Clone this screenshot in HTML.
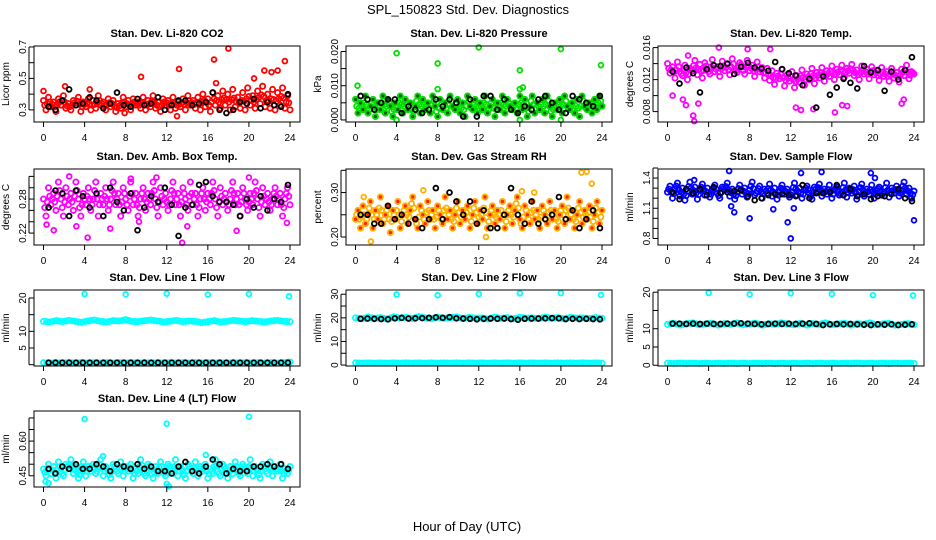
<!DOCTYPE html>
<html><head><meta charset="utf-8"><title>SPL_150823 Std. Dev. Diagnostics</title>
<style>
html,body{margin:0;padding:0;background:#fff;}
svg{display:block;font-family:"Liberation Sans",Arial,sans-serif;}
</style></head>
<body>
<svg id="chart" width="936" height="540" viewBox="0 0 936 540">
<text x="468" y="14" text-anchor="middle" font-size="13">SPL_150823  Std. Dev. Diagnostics</text>
<text x="467" y="531" text-anchor="middle" font-size="13">Hour of Day (UTC)</text>
</svg>
<script>
// ---------- shared axis data ----------
const xTicks = [0,4,8,12,16,20,24];

// ---------- Panel 1: CO2 ----------
const co2Vals = [.36,.30,.38,.32,.35,.29,.37,.33,.39,.31,.34,.30,.36,.33,.38,.29,.35,.32,.37,.30,.36,.31,.39,.33,.35,.30,.37,.32,.36,.29,.34,.31,.38,.32,.36,.30,.37,.33,.35,.31,.38,.30,.36,.32,.39,.31,.35,.29,.37,.33,.36,.30,.38,.31,.35,.32,.37,.30,.39,.33,.36,.31,.38,.30,.40,.32,.37,.29,.41,.33,.39,.31,.42,.33,.40,.30,.43,.32,.38,.31,.41,.30,.44,.33,.39,.31,.42,.34,.45,.32,.40,.31,.43,.30,.41,.33,.44,.31,.39,.30];
const co2OutH = [0,2.1,4.5,9.5,13.2,16.6,18,23.5,21.5,22.2,22.8,20.5,13,7.9,16.8];
const co2OutV = [.42,.45,.43,.51,.56,.62,.69,.61,.55,.54,.55,.50,.26,.28,.47];
const co2Black = [.32,.30,.36,.43,.33,.34,.38,.36,.31,.34,.41,.33,.32,.37,.33,.34,.38,.30,.33,.36,.36,.33,.34,.35,.41,.30,.28,.30,.35,.34,.37,.31,.35,.33,.32,.40];
const co2Ticks = [.3,.4,.5,.6,.7];
const co2Labels = ['0.3','','0.5','','0.7'];

// ---------- Panel 2: Pressure ----------
const presVals = [.006,.002,.005,.003,.007,.002,.004,.006,.001,.005,.003,.007,.002,.006,.004,.001,.005,.003,.007,.002,.006,.003,.005,.001,.004,.007,.002,.006,.003,.005,.002,.007,.004,.001,.006,.003,.005,.002,.007,.004,.003,.006,.002,.005,.001,.007,.004,.003,.006,.002,.005,.003,.007,.002,.004,.006,.001,.005,.003,.007,.002,.006,.004,.003,.005,.002,.007,.003,.006,.001,.004,.007,.002,.005,.003,.006,.002,.007,.004,.001,.005,.003,.006,.002,.007,.004,.003,.005,.002,.006,.001,.007,.004,.003,.005,.002,.006,.003,.007,.004];
const presOutH = [0.2,4,8,12,16,20,23.9,8,16,16,4,20,16.3];
const presOutV = [.010,.0195,.0165,.0212,.0145,.0207,.016,.009,.009,.0,.0,.0,.0095];
const presBlack = [.007,.006,.003,.005,.006,.006,.002,.004,.003,.002,.003,.006,.004,.006,.005,.001,.006,.001,.007,.007,.003,.006,.003,.002,.004,.003,.006,.007,.005,.003,.002,.007,.006,.005,.004,.007];
const presTicks = [0,.005,.01,.015,.02];
const presLabels = ['0.000','','0.010','','0.020'];

// ---------- Panel 3: Li-820 Temp ----------
const tempVals = [.0140,.0128,.0136,.0122,.0142,.0130,.0125,.0138,.0120,.0134,.0131,.0144,.0126,.0139,.0122,.0141,.0133,.0127,.0145,.0130,.0136,.0124,.0143,.0131,.0139,.0126,.0146,.0133,.0129,.0141,.0136,.0127,.0144,.0131,.0138,.0124,.0142,.0130,.0135,.0122,.0134,.0119,.0131,.0114,.0128,.0121,.0133,.0112,.0126,.0118,.0130,.0110,.0125,.0117,.0132,.0113,.0127,.0120,.0134,.0115,.0129,.0122,.0135,.0118,.0131,.0124,.0137,.0120,.0133,.0126,.0138,.0123,.0134,.0128,.0139,.0125,.0132,.0120,.0137,.0127,.0133,.0121,.0136,.0126,.0131,.0119,.0135,.0124,.0130,.0118,.0134,.0122,.0129,.0117,.0133,.0125,.0138,.0121,.0130,.0127];
const tempOutH = [1.5,1.8,2.5,3,2.6,12.5,13,16.3,17,23,22.8,5,7.8,10,2,0.5,14.2,17.5];
const tempOutV = [.0095,.0088,.0075,.0090,.0068,.0085,.0082,.0079,.0088,.0095,.0090,.0160,.0158,.0158,.0150,.0100,.0083,.0087];
const tempBlack = [.0130,.0115,.0135,.0128,.0104,.0133,.0138,.0137,.0140,.0127,.0136,.0141,.0135,.0134,.0131,.0142,.0133,.0128,.0125,.0113,.0121,.0085,.0124,.0101,.0110,.0121,.0116,.0109,.0137,.0129,.0132,.0106,.0130,.0120,.0132,.0148];
const tempTicks = [.008,.010,.012,.014,.016];
const tempLabels = ['0.008','','0.012','','0.016'];

// ---------- Panel 4: Amb. Box Temp ----------
const ambVals = [.28,.25,.30,.27,.29,.26,.31,.28,.25,.30,.27,.29,.26,.31,.28,.25,.29,.27,.30,.26,.28,.31,.25,.29,.27,.30,.26,.28,.31,.27,.29,.25,.30,.28,.26,.31,.27,.29,.25,.28,.30,.26,.29,.27,.31,.28,.25,.30,.27,.29,.26,.28,.31,.27,.29,.25,.30,.28,.26,.31,.27,.29,.25,.28,.30,.26,.29,.27,.31,.28,.25,.30,.27,.29,.26,.28,.31,.27,.29,.25,.30,.28,.26,.29,.27,.31,.28,.25,.30,.27,.29,.26,.28,.30,.27,.29,.25,.28,.30,.27];
const ambOutH = [0.3,1,4.3,9.3,13.5,14,8.5,11,18.8,23.7,2.5,20,6.5,3.2];
const ambOutV = [.235,.225,.212,.240,.203,.232,.316,.318,.224,.238,.320,.318,.228,.232];
const ambBlack = [.265,.295,.290,.250,.295,.285,.265,.290,.250,.300,.275,.260,.290,.225,.265,.285,.275,.300,.270,.215,.265,.270,.305,.310,.285,.275,.275,.270,.250,.280,.265,.285,.260,.280,.275,.305];
const ambTicks = [.22,.24,.26,.28,.30,.32];
const ambLabels = ['0.22','','','0.28','',''];

// ---------- Panel 5: Gas Stream RH ----------
const rhVals = [.24,.26,.22,.27,.23,.25,.28,.22,.26,.24,.29,.23,.25,.27,.21,.26,.24,.28,.22,.25,.27,.23,.26,.29,.24,.22,.27,.25,.23,.28,.24,.26,.22,.27,.25,.23,.29,.24,.26,.22,.25,.28,.23,.26,.24,.27,.22,.25,.28,.23,.26,.24,.29,.22,.25,.27,.23,.26,.24,.28,.22,.25,.27,.23,.26,.29,.24,.22,.27,.25,.23,.28,.24,.26,.22,.27,.25,.23,.28,.24,.26,.22,.25,.27,.23,.29,.24,.26,.22,.25,.28,.23,.26,.24,.27,.22,.25,.28,.23,.26];
const rhOutH = [1.5,22,22.5,23,6.6,16.2,17.4,0.8,12.7];
const rhOutV = [.19,.345,.347,.32,.305,.303,.300,.29,.20];
const rhBlack = [.25,.25,.23,.23,.27,.24,.25,.23,.24,.22,.24,.31,.24,.30,.28,.25,.28,.23,.26,.22,.22,.25,.31,.25,.23,.28,.23,.24,.25,.29,.24,.26,.22,.24,.26,.22];
const rhTicks = [.20,.25,.30,.35];
const rhLabels = ['0.20','','0.30',''];

// ---------- Panel 6: Sample Flow ----------
const flowVals = [1.26,1.32,1.20,1.29,1.35,1.22,1.30,1.18,1.27,1.36,1.24,1.31,1.19,1.28,1.34,1.23,1.30,1.21,1.27,1.33,1.25,1.20,1.31,1.28,1.35,1.22,1.29,1.19,1.26,1.33,1.24,1.30,1.21,1.28,1.36,1.23,1.27,1.32,1.20,1.29,1.25,1.34,1.22,1.30,1.19,1.27,1.33,1.24,1.29,1.21,1.26,1.35,1.23,1.30,1.20,1.28,1.32,1.25,1.19,1.31,1.27,1.34,1.22,1.29,1.24,1.33,1.20,1.28,1.31,1.23,1.26,1.35,1.21,1.30,1.25,1.32,1.19,1.27,1.34,1.22,1.29,1.24,1.33,1.20,1.28,1.31,1.23,1.26,1.35,1.21,1.30,1.25,1.32,1.22,1.28,1.36,1.24,1.30,1.20,1.27];
const flowOutH = [6,8,11.7,12,13,15,19.8,24,10.3,6.5,2.6,20.2,12.3,6.2];
const flowOutV = [1.47,1.00,.96,.80,1.45,1.46,1.45,.98,1.09,1.06,1.38,1.40,1.10,1.12];
const flowBlack = [1.26,1.19,1.29,1.25,1.29,1.23,1.31,1.25,1.26,1.27,1.28,1.22,1.18,1.20,1.23,1.24,1.24,1.23,1.22,1.33,1.20,1.25,1.25,1.26,1.33,1.23,1.29,1.22,1.24,1.19,1.22,1.22,1.24,1.29,1.20,1.17];
const flowTicks = [.8,.9,1.0,1.1,1.2,1.3,1.4,1.5];
const flowLabels = ['0.8','','','1.1','','','1.4',''];

// ---------- Panel 7: Line 1 Flow ----------
const l1High = [13.0,12.8,13.2,12.9,13.3,13.0,12.7,13.1,13.4,13.0,12.8,13.2,13.1,13.5,13.0,12.9,13.2,13.4,13.1,12.8,13.0,13.3,12.9,13.1,13.0,12.6,12.9,13.2,12.8,13.0,13.3,13.1,12.9,13.2,13.0,12.8,13.1,13.3,13.0,12.9];
const l1Low = [0.6,0.5,0.6,0.5,0.6,0.5,0.6,0.5,0.6,0.5,0.6,0.5,0.6,0.5,0.6,0.5,0.6,0.5,0.6,0.5,0.6,0.5,0.6,0.5,0.6,0.5,0.6,0.5,0.6,0.5,0.6,0.5,0.6,0.5,0.6,0.5,0.6,0.5,0.6,0.8];
const l1OutH = [4,8,12,16,20,23.9];
const l1OutV = [21.2,21.1,21.3,21.0,21.2,20.5];
const l1Black = [0.6,0.6,0.6,0.6,0.6,0.6,0.6,0.6,0.6,0.6,0.6,0.6,0.6,0.6,0.6,0.6,0.6,0.6,0.6,0.6,0.6,0.6,0.6,0.6,0.6,0.6,0.6,0.6,0.6,0.6,0.6,0.6,0.6,0.6,0.6,0.6];
const l1Ticks = [0,5,10,15,20];
const l1Labels = ['','5','10','','20'];

// ---------- Panel 8: Line 2 Flow ----------
const l2High = [20.0,19.6,20.3,19.8,20.1,19.5,20.4,19.9,20.2,19.7,20.5,20.0,19.6,20.3,19.8,20.1,20.4,19.7,20.2,19.9,20.0,19.5,20.3,19.8,20.1,19.6,20.2,19.9,20.0,19.7,20.3,19.8,20.1,19.6,20.2,19.9,20.0,19.7,20.1,19.8];
const l2Low = [0.9,0.8,0.9,0.8,0.9,0.8,0.9,0.8,0.9,0.8,0.9,0.8,0.9,0.8,0.9,0.8,0.9,0.8,0.9,0.8,0.9,0.8,0.9,0.8,0.9,0.8,0.9,0.8,0.9,0.8,0.9,0.8,0.9,0.8,0.9,0.8,0.9,0.8,0.9,0.8];
const l2OutH = [4,8,12,16,20,23.9];
const l2OutV = [29.9,29.6,30.1,30.4,30.5,29.7];
const l2Black = [19.6,19.7,19.6,19.5,19.4,19.8,20.0,19.7,19.8,19.9,20.0,20.2,20.0,20.3,19.8,19.7,19.6,19.4,19.6,19.7,19.6,19.7,19.5,19.2,19.6,19.7,19.7,19.8,19.9,19.8,19.5,19.6,19.5,19.6,19.5,19.4];
const l2Ticks = [0,5,10,15,20,25,30];
const l2Labels = ['0','','10','','20','','30'];

// ---------- Panel 9: Line 3 Flow ----------
const l3High = [11.2,11.5,11.0,11.4,11.6,11.1,11.3,11.5,11.0,11.4,11.2,11.6,11.1,11.3,11.5,11.0,11.4,11.2,11.6,11.3,11.1,11.5,11.0,11.4,11.2,11.6,11.1,11.3,11.5,11.0,11.4,11.2,11.6,11.1,11.3,11.5,11.0,11.2,11.4,11.1];
const l3Low = [0.6,0.5,0.6,0.5,0.6,0.5,0.6,0.5,0.6,0.5,0.6,0.5,0.6,0.5,0.6,0.5,0.6,0.5,0.6,0.5,0.6,0.5,0.6,0.5,0.6,0.5,0.6,0.5,0.6,0.5,0.6,0.5,0.6,0.5,0.6,0.5,0.6,0.5,0.6,0.5];
const l3OutH = [4,8,12,16,20,23.9];
const l3OutV = [19.8,19.4,19.7,19.5,19.2,19.1];
const l3Black = [11.4,11.4,11.3,11.4,11.3,11.4,11.3,11.3,11.4,11.4,11.5,11.4,11.3,11.2,11.3,11.4,11.3,11.4,11.3,11.4,11.5,11.3,11.0,11.2,11.3,11.2,11.3,11.2,11.1,11.0,11.2,11.1,11.2,11.0,11.1,11.2];
const l3Ticks = [0,5,10,15,20];
const l3Labels = ['0','5','10','','20'];

// ---------- Panel 10: Line 4 (LT) Flow ----------
const l4Vals = [.48,.45,.50,.46,.49,.44,.51,.47,.45,.50,.48,.52,.46,.49,.44,.47,.51,.45,.49,.47,.50,.46,.48,.52,.45,.49,.47,.44,.50,.48,.46,.51,.45,.49,.47,.50,.44,.48,.46,.52,.47,.45,.50,.48,.44,.49,.46,.51,.47,.45,.50,.48,.46,.52,.45,.49,.47,.44,.50,.48,.46,.51,.45,.49,.47,.50,.44,.48,.46,.52,.47,.45,.50,.48,.44,.49,.46,.51,.47,.45,.50,.48,.46,.52,.45,.49,.47,.44,.50,.48,.46,.51,.45,.49,.47,.50,.44,.48,.46,.49];
const l4OutH = [4,12,20,12,12.2,0.2,0.5,15.8,5.8];
const l4OutV = [.695,.675,.705,.415,.405,.425,.418,.54,.535];
const l4Black = [.48,.46,.49,.48,.50,.48,.48,.50,.49,.47,.50,.49,.48,.50,.48,.49,.47,.47,.46,.49,.51,.47,.46,.49,.52,.50,.46,.48,.47,.47,.49,.49,.50,.49,.50,.48];
const l4Ticks = [.45,.50,.55,.60,.65,.70];
const l4Labels = ['0.45','','','0.60','',''];

// ---------- layout (positions, not data) ----------
const colX = [34, 346, 658];
const rowY = [46, 169, 290, 411];
const BOX_W = 266, BOX_H = 76;

const panels = [
 {id:'co2', title:'Stan. Dev. Li-820 CO2', ylab:'Licor ppm', col:0,row:0, ylim:[.223,.706], color:'#ff0000', vals:co2Vals, outH:co2OutH, outV:co2OutV, black:co2Black, ticks:co2Ticks, labels:co2Labels},
 {id:'pressure', title:'Stan. Dev. Li-820 Pressure', ylab:'kPa', col:1,row:0, ylim:[-.0006,.0216], color:'#00e000', vals:presVals, outH:presOutH, outV:presOutV, black:presBlack, ticks:presTicks, labels:presLabels, speck:true},
 {id:'temp', title:'Stan. Dev. Li-820 Temp.', ylab:'degrees C', col:2,row:0, ylim:[.0067,.0162], color:'#ff00ff', vals:tempVals, outH:tempOutH, outV:tempOutV, black:tempBlack, ticks:tempTicks, labels:tempLabels},
 {id:'amb-temp', title:'Stan. Dev. Amb. Box Temp.', ylab:'degrees C', col:0,row:1, ylim:[.199,.333], color:'#ff00ff', vals:ambVals, outH:ambOutH, outV:ambOutV, black:ambBlack, ticks:ambTicks, labels:ambLabels},
 {id:'rh', title:'Stan. Dev. Gas Stream RH', ylab:'percent', col:1,row:1, ylim:[.182,.353], color:'#ffb000', vals:rhVals, outH:rhOutH, outV:rhOutV, black:rhBlack, ticks:rhTicks, labels:rhLabels, speck:true},
 {id:'sample-flow', title:'Stan. Dev. Sample Flow', ylab:'ml/min', col:2,row:1, ylim:[.735,1.49], color:'#0000ff', vals:flowVals, outH:flowOutH, outV:flowOutV, black:flowBlack, ticks:flowTicks, labels:flowLabels},
 {id:'line1', title:'Stan. Dev. Line 1 Flow', ylab:'ml/min', col:0,row:2, ylim:[-.4,22.4], color:'#00ffff', vals:l1High, vals2:l1Low, outH:l1OutH, outV:l1OutV, black:l1Black, ticks:l1Ticks, labels:l1Labels},
 {id:'line2', title:'Stan. Dev. Line 2 Flow', ylab:'ml/min', col:1,row:2, ylim:[-.4,31.8], color:'#00ffff', vals:l2High, vals2:l2Low, outH:l2OutH, outV:l2OutV, black:l2Black, ticks:l2Ticks, labels:l2Labels},
 {id:'line3', title:'Stan. Dev. Line 3 Flow', ylab:'ml/min', col:2,row:2, ylim:[-.2,20.6], color:'#00ffff', vals:l3High, vals2:l3Low, outH:l3OutH, outV:l3OutV, black:l3Black, ticks:l3Ticks, labels:l3Labels},
 {id:'line4', title:'Stan. Dev. Line 4 (LT) Flow', ylab:'ml/min', col:0,row:3, ylim:[.4015,.73], color:'#00ffff', vals:l4Vals, outH:l4OutH, outV:l4OutV, black:l4Black, ticks:l4Ticks, labels:l4Labels}
];

const svg = document.getElementById('chart');
const NS = 'http://www.w3.org/2000/svg';
function mk(tag, attrs, parent){
  const e = document.createElementNS(NS, tag);
  for (const k in attrs) e.setAttribute(k, attrs[k]);
  parent.appendChild(e);
  return e;
}

panels.forEach(p => {
  const L = colX[p.col], T = rowY[p.row];
  const x0 = L + 9.5, xSpan = 246.5;
  const xs = h => x0 + h / 24 * xSpan;
  const ys = v => T + BOX_H - (v - p.ylim[0]) / (p.ylim[1] - p.ylim[0]) * BOX_H;

  const g = mk('g', {}, svg);
  
  

  const t = mk('text', {x: L + BOX_W/2, y: T - 9, 'text-anchor':'middle', 'font-size':'11', 'font-weight':'bold'}, g);
  t.textContent = p.title;
  
  

  const yl = mk('text', {x:0, y:0, 'text-anchor':'middle', 'font-size':'10', transform:'translate(' + (L-25) + ',' + (T+BOX_H/2) + ') rotate(-90)'}, g);
  yl.textContent = p.ylab;
  
  

  const pts = mk('g', {fill:'none', 'stroke-width':'1.8'}, g);
  
  

  function series(vals, hours, color, name, r){
    vals.forEach((v, i) => {
      const c = mk('circle', {cx: xs(hours(i)), cy: ys(v), r: r, stroke: color}, pts);
      
      
    });
  }
  // dense cloud: each reading drawn, plus a fill pass between successive readings
  function cloud(vals, name){
    const n = vals.length;
    const hv = i => i * 24 / (n - 1);
    series(vals, hv, p.color, name, 2.6);
    const mids = vals.slice(0, n - 1).map((v, i) => (v + vals[i + 1]) / 2);
    series(mids, i => hv(i) + 12 / (n - 1), p.color, name + '-fill', 2.6);
    if (p.speck) {
      series(vals, hv, p.id === 'rh' ? '#ff2000' : '#006000', p.id + '-speck', 0.8);
    }
  }
  cloud(p.vals, p.id + '-point');
  if (p.vals2) cloud(p.vals2, p.id + '-low-point');
  series(p.outV, i => p.outH[i], p.color, p.id + '-outlier', 2.4);
  const nb = p.black.length;
  series(p.black, i => 0.5 + i * 23.3 / (nb - 1), '#000000', p.id + '-hourly-point', 2.4);

  const box = mk('rect', {x:L, y:T, width:BOX_W, height:BOX_H, fill:'none', stroke:'#000', 'stroke-width':'1'}, g);
  
  

  xTicks.forEach(h => {
    const ln = mk('line', {x1:xs(h), x2:xs(h), y1:T+BOX_H, y2:T+BOX_H+5, stroke:'#000'}, g);
    
    
    const tx = mk('text', {x:xs(h), y:T+BOX_H+19, 'text-anchor':'middle', 'font-size':'10'}, g);
    tx.textContent = String(h);
    
    
  });

  p.ticks.forEach((v, i) => {
    const y = ys(v);
    const ln = mk('line', {x1:L-5, x2:L, y1:y, y2:y, stroke:'#000'}, g);
    
    
    if (p.labels[i]) {
      const tx = mk('text', {x:0, y:0, 'text-anchor':'middle', 'font-size':'10', transform:'translate(' + (L-8) + ',' + y + ') rotate(-90)'}, g);
      tx.textContent = p.labels[i];
      
      
    }
  });
  const ya = mk('line', {x1:L-5, x2:L-5, y1:ys(p.ticks[0]), y2:ys(p.ticks[p.ticks.length-1]), stroke:'#000'}, g);
  
  
});
</script>
</body></html>
